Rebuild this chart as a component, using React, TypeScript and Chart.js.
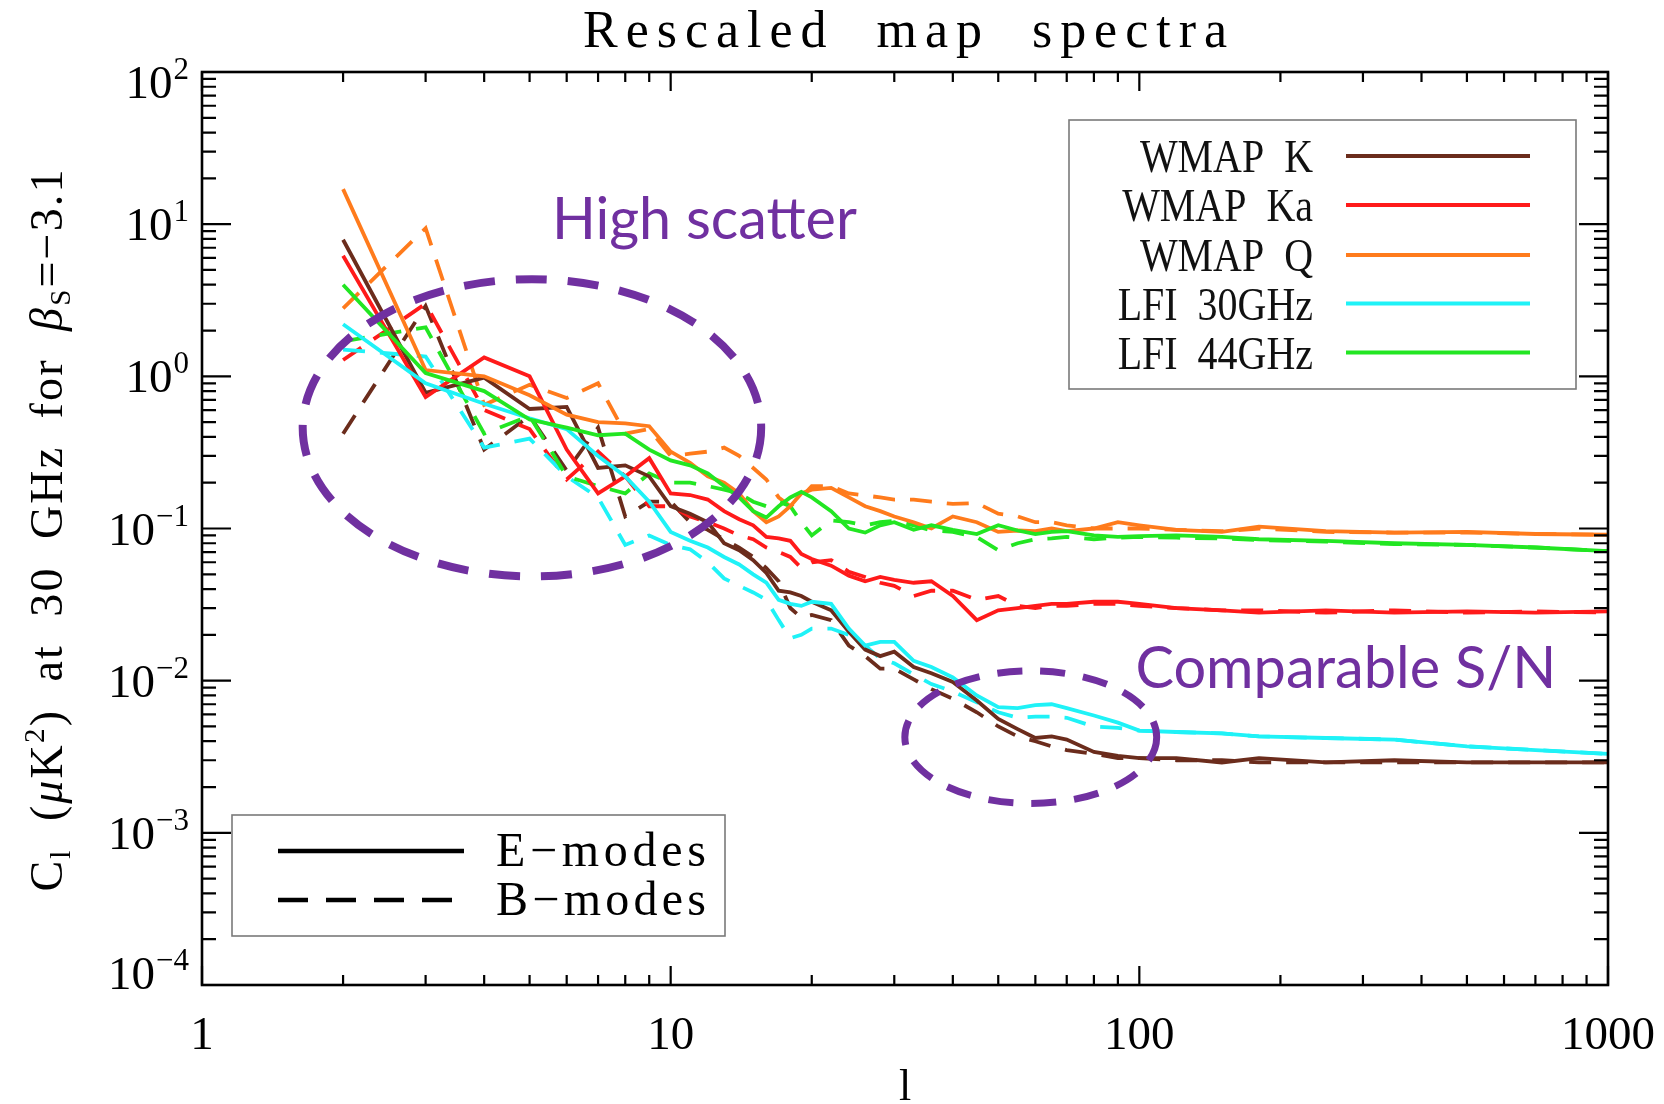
import React, { useEffect, useRef } from "react";
import { Chart, registerables } from "chart.js";

Chart.register(...registerables);

// ---------------- data ----------------
const ells = [2, 3, 4, 5, 6, 7, 8, 9, 10, 11, 12, 13, 14, 15, 16, 17, 18, 19, 20, 22, 24, 26, 28, 30, 33, 36, 40, 45, 50, 55, 60, 65, 70, 80, 90, 100, 120, 150, 180, 250, 350, 500, 700, 1000];

const wmapK_E = [7.9, 0.78, 0.98, 0.61, 0.63, 0.25, 0.26, 0.22, 0.14, 0.125, 0.11, 0.08, 0.072, 0.062, 0.051, 0.039, 0.038, 0.036, 0.033, 0.029, 0.021, 0.016, 0.0145, 0.0155, 0.0123, 0.0112, 0.0098, 0.0074, 0.0056, 0.0048, 0.0042, 0.0043, 0.0041, 0.0034, 0.0032, 0.0031, 0.0031, 0.0029, 0.0031, 0.0029, 0.003, 0.0029, 0.0029, 0.0029];
const wmapK_B = [0.42, 2.9, 0.33, 0.55, 0.24, 0.46, 0.12, 0.15, 0.15, 0.11, 0.098, 0.085, 0.075, 0.065, 0.055, 0.045, 0.03, 0.026, 0.027, 0.025, 0.017, 0.0145, 0.012, 0.012, 0.0102, 0.0088, 0.0076, 0.0062, 0.005, 0.0043, 0.004, 0.0037, 0.0035, 0.0033, 0.0031, 0.0031, 0.003, 0.003, 0.0029, 0.0029, 0.0029, 0.0029, 0.0029, 0.0029];

const wmapKa_E = [6.2, 0.73, 1.33, 1.0, 0.33, 0.17, 0.22, 0.29, 0.17, 0.166, 0.155, 0.13, 0.115, 0.105, 0.088, 0.086, 0.083, 0.068, 0.063, 0.057, 0.049, 0.045, 0.048, 0.046, 0.044, 0.045, 0.036, 0.025, 0.029, 0.03, 0.031, 0.032, 0.032, 0.033, 0.033, 0.032, 0.03, 0.029, 0.028, 0.029, 0.028, 0.0285, 0.028, 0.0285];
const wmapKa_B = [1.28, 3.0, 0.6, 0.45, 0.21, 0.32, 0.22, 0.14, 0.14, 0.12, 0.11, 0.1, 0.09, 0.085, 0.075, 0.07, 0.065, 0.055, 0.06, 0.062, 0.052, 0.048, 0.044, 0.042, 0.036, 0.039, 0.039, 0.034, 0.036, 0.031, 0.03, 0.031, 0.031, 0.032, 0.032, 0.031, 0.03, 0.029, 0.029, 0.028, 0.029, 0.028, 0.0285, 0.028];

const wmapQ_E = [17, 1.1, 1.0, 0.75, 0.56, 0.5, 0.49, 0.47, 0.32, 0.27, 0.22, 0.2, 0.17, 0.13, 0.11, 0.12, 0.14, 0.17, 0.18, 0.185, 0.16, 0.14, 0.13, 0.12, 0.11, 0.1, 0.12, 0.11, 0.095, 0.097, 0.096, 0.1, 0.096, 0.1, 0.11, 0.105, 0.098, 0.095, 0.103, 0.096, 0.094, 0.095, 0.092, 0.091];
const wmapQ_B = [2.8, 9.4, 0.65, 0.88, 0.72, 0.9, 0.42, 0.45, 0.3, 0.31, 0.32, 0.34, 0.3, 0.25, 0.21, 0.16, 0.14, 0.16, 0.19, 0.19, 0.17, 0.165, 0.16, 0.155, 0.155, 0.15, 0.145, 0.147, 0.125, 0.12, 0.11, 0.11, 0.105, 0.1, 0.1, 0.1, 0.098, 0.096, 0.1, 0.095, 0.094, 0.094, 0.092, 0.091];

const lfi30_E = [2.2, 0.9, 0.66, 0.53, 0.45, 0.3, 0.22, 0.15, 0.095, 0.083, 0.075, 0.065, 0.058, 0.05, 0.044, 0.034, 0.032, 0.031, 0.033, 0.032, 0.022, 0.017, 0.018, 0.018, 0.0135, 0.0123, 0.0105, 0.008, 0.0067, 0.0066, 0.0069, 0.007, 0.0066, 0.0059, 0.0053, 0.0047, 0.0046, 0.0045, 0.0043, 0.0042, 0.0041, 0.0037, 0.0035, 0.0033];
const lfi30_B = [1.5, 1.35, 0.34, 0.39, 0.22, 0.16, 0.078, 0.09, 0.078, 0.073, 0.06, 0.047, 0.042, 0.038, 0.034, 0.025, 0.019, 0.02, 0.022, 0.022, 0.02, 0.017, 0.014, 0.013, 0.011, 0.0095, 0.0085, 0.0072, 0.0062, 0.0057, 0.0058, 0.0058, 0.0057, 0.005, 0.0049, 0.0047, 0.0046, 0.0045, 0.0043, 0.0042, 0.0041, 0.0037, 0.0035, 0.0033];

const lfi44_E = [4.0, 1.05, 0.8, 0.52, 0.46, 0.41, 0.42, 0.33, 0.28, 0.26, 0.23, 0.19, 0.16, 0.13, 0.118, 0.14, 0.16, 0.174, 0.16, 0.13, 0.1, 0.094, 0.105, 0.11, 0.098, 0.105, 0.098, 0.092, 0.105, 0.097, 0.092, 0.095, 0.096, 0.09, 0.088, 0.089, 0.09, 0.088, 0.085, 0.083, 0.08, 0.078, 0.075, 0.071];
const lfi44_B = [1.7, 2.1, 0.42, 0.55, 0.22, 0.19, 0.17, 0.23, 0.2, 0.2, 0.19, 0.18, 0.17, 0.15, 0.14, 0.15, 0.14, 0.11, 0.09, 0.113, 0.11, 0.105, 0.11, 0.112, 0.105, 0.097, 0.095, 0.088, 0.072, 0.08, 0.085, 0.086, 0.088, 0.085, 0.087, 0.088, 0.087, 0.086, 0.084, 0.082, 0.079, 0.078, 0.075, 0.071];

const channelNames = ["WMAP  K", "WMAP  Ka", "WMAP  Q", "LFI  30GHz", "LFI  44GHz"];
const channelColors = ["#6b2c1c", "#ff1a1a", "#ff7b1c", "#1ff2f7", "#22e622"];
const eSeries = [wmapK_E, wmapKa_E, wmapQ_E, lfi30_E, lfi44_E];
const bSeries = [wmapK_B, wmapKa_B, wmapQ_B, lfi30_B, lfi44_B];
const modeNames = ["E\u2212modes", "B\u2212modes"];

const xTickValues = [1, 10, 100, 1000];
const yTickExponents = [-4, -3, -2, -1, 0, 1, 2];

const titleText = "Rescaled  map  spectra";
const xTitleText = "l";
const yTitleParts = [
  { t: "C", sub: 0 },
  { t: "l", sub: 1 },
  { t: "  (", sub: 0 },
  { t: "\u03BC", sub: 0, italic: true },
  { t: "K", sub: 0 },
  { t: "2", sub: -1 },
  { t: ")  at  30  GHz  for  ", sub: 0 },
  { t: "\u03B2", sub: 0, italic: true },
  { t: "S", sub: 1 },
  { t: "=\u22123.1", sub: 0 },
];

// annotation regions, in data coordinates (l, C_l)
const scatterNote = { text: "High scatter", l: 5.58, c: 8.0 };
const snNote = { text: "Comparable S/N", l: 98.1, c: 0.00895 };
const scatterEllipse = { lMin: 1.64, lMax: 15.6, cMin: 0.0484, cMax: 4.35 };
const snEllipse = { lMin: 31.6, lMax: 108.9, cMin: 0.00156, cMax: 0.0116 };

// ---------------- drawing helpers ----------------
const SERIF = '"Liberation Serif", "DejaVu Serif", serif';
const PURPLE = "#7030a0";

function fillFit(ctx: CanvasRenderingContext2D, text: string, x: number, y: number, width: number, align: "left" | "center" | "right") {
  const c = ctx as any;
  c.letterSpacing = "0px";
  const w0 = ctx.measureText(text).width;
  const n = text.length;
  const sp = n > 1 ? (width - w0) / (n - 1) : 0;
  c.letterSpacing = sp.toFixed(2) + "px";
  const sx = align === "left" ? x : align === "center" ? x - width / 2 : x - width;
  ctx.textAlign = "left";
  ctx.fillText(text, sx, y);
  c.letterSpacing = "0px";
}

const decorPlugin = {
  id: "decor",
  afterDraw(chart: any) {
    const ctx: CanvasRenderingContext2D = chart.ctx;
    const xs = chart.scales.x;
    const ys = chart.scales.y;
    const { left, right, top, bottom } = chart.chartArea;
    ctx.save();
    ctx.fillStyle = "#000";
    ctx.strokeStyle = "#000";

    // ticks
    ctx.lineWidth = 2.2;
    ctx.beginPath();
    for (let e = 0; e <= 3; e++) {
      for (let m = 1; m <= 9; m++) {
        const v = m * Math.pow(10, e);
        if (v > 1000) break;
        const px = xs.getPixelForValue(v);
        const len = m === 1 ? 19 : 10;
        ctx.moveTo(px, bottom); ctx.lineTo(px, bottom - len);
        ctx.moveTo(px, top); ctx.lineTo(px, top + len);
      }
    }
    for (let e = -4; e <= 2; e++) {
      for (let m = 1; m <= 9; m++) {
        const v = m * Math.pow(10, e);
        if (v > 100.0001) break;
        const py = ys.getPixelForValue(v);
        const len = m === 1 ? 29 : 14;
        ctx.moveTo(left, py); ctx.lineTo(left + len, py);
        ctx.moveTo(right, py); ctx.lineTo(right - len, py);
      }
    }
    ctx.stroke();

    // frame
    ctx.lineWidth = 2.6;
    ctx.strokeRect(left, top, right - left, bottom - top);

    // y tick labels
    ctx.textBaseline = "alphabetic";
    for (const e of yTickExponents) {
      const py = ys.getPixelForValue(Math.pow(10, e));
      const off = e === 2 ? 10 : e === -4 ? -12 : 0;
      const expText = e < 0 ? "\u2212" + Math.abs(e) : String(e);
      ctx.font = `31px ${SERIF}`;
      const wExp = ctx.measureText(expText).width;
      const rightX = 189;
      ctx.textAlign = "left";
      ctx.fillText(expText, rightX - wExp, py + off - 3);
      ctx.font = `47px ${SERIF}`;
      ctx.textAlign = "right";
      ctx.fillText("10", rightX - wExp - 1, py + off + 16);
    }

    // x tick labels
    ctx.font = `47px ${SERIF}`;
    ctx.textAlign = "center";
    for (const v of xTickValues) {
      const px = xs.getPixelForValue(v);
      ctx.fillText(String(v), px, bottom + 64);
    }

    // titles
    ctx.font = `52px ${SERIF}`;
    fillFit(ctx, titleText, (left + right) / 2, 47, 644, "center");
    ctx.font = `44px ${SERIF}`;
    ctx.textAlign = "center";
    ctx.fillText(xTitleText, (left + right) / 2, 1100);

    // y title (rotated rich text)
    {
      const big = 46, small = 29;
      const parts = yTitleParts.map((p) => {
        const size = p.sub === 0 ? big : small;
        const font = `${p.italic ? "italic " : ""}${size}px ${SERIF}`;
        ctx.font = font;
        (ctx as any).letterSpacing = "0px";
        return { ...p, font, w: ctx.measureText(p.t).width };
      });
      const totalChars = parts.reduce((a, p) => a + p.t.length, 0);
      const w0 = parts.reduce((a, p) => a + p.w, 0);
      const target = 722;
      const sp = (target - w0) / (totalChars - 1);
      ctx.save();
      ctx.translate(62, (top + bottom) / 2 + 2);
      ctx.rotate(-Math.PI / 2);
      let x = -target / 2;
      ctx.textAlign = "left";
      for (const p of parts) {
        ctx.font = p.font;
        (ctx as any).letterSpacing = sp.toFixed(2) + "px";
        const dy = p.sub === 1 ? 8 : p.sub === -1 ? -18 : 0;
        ctx.fillText(p.t, x, dy);
        x += p.w + sp * p.t.length;
      }
      (ctx as any).letterSpacing = "0px";
      ctx.restore();
    }

    // channel legend (top right)
    {
      const bx = 1069, by = 120, bw = 507, bh = 269;
      ctx.fillStyle = "#fff";
      ctx.fillRect(bx, by, bw, bh);
      ctx.strokeStyle = "#7a7a7a";
      ctx.lineWidth = 1.6;
      ctx.strokeRect(bx, by, bw, bh);
      const rowY = [156, 205, 255, 303.5, 352.5];
      channelNames.forEach((name, i) => {
        const y = rowY[i];
        ctx.save();
        ctx.fillStyle = "#111";
        ctx.font = `47px ${SERIF}`;
        ctx.translate(1313, y + 16);
        ctx.scale(0.85, 1);
        ctx.textAlign = "right";
        ctx.fillText(name, 0, 0);
        ctx.restore();
        ctx.strokeStyle = channelColors[i];
        ctx.lineWidth = 4;
        ctx.setLineDash([]);
        ctx.beginPath();
        ctx.moveTo(1346, y);
        ctx.lineTo(1530, y);
        ctx.stroke();
      });
    }

    // mode legend (bottom left)
    {
      const bx = 232, by = 815, bw = 493, bh = 121;
      ctx.fillStyle = "#fff";
      ctx.fillRect(bx, by, bw, bh);
      ctx.strokeStyle = "#7a7a7a";
      ctx.lineWidth = 1.6;
      ctx.strokeRect(bx, by, bw, bh);
      ctx.strokeStyle = "#000";
      ctx.lineWidth = 4.5;
      ctx.setLineDash([]);
      ctx.beginPath(); ctx.moveTo(278, 851); ctx.lineTo(464, 851); ctx.stroke();
      ctx.setLineDash([30, 18]);
      ctx.beginPath(); ctx.moveTo(278, 900); ctx.lineTo(452, 900); ctx.stroke();
      ctx.setLineDash([]);
      ctx.fillStyle = "#000";
      ctx.font = `48px ${SERIF}`;
      fillFit(ctx, modeNames[0], 496, 866, 210, "left");
      fillFit(ctx, modeNames[1], 496, 915, 210, "left");
    }

    // purple ellipses
    const drawEllipse = (el: any, lw: number, dash: number[]) => {
      const x1 = xs.getPixelForValue(el.lMin), x2 = xs.getPixelForValue(el.lMax);
      const y1 = ys.getPixelForValue(el.cMax), y2 = ys.getPixelForValue(el.cMin);
      ctx.strokeStyle = PURPLE;
      ctx.lineWidth = lw;
      ctx.setLineDash(dash);
      ctx.beginPath();
      ctx.ellipse((x1 + x2) / 2, (y1 + y2) / 2, (x2 - x1) / 2, (y2 - y1) / 2, 0, 0, Math.PI * 2);
      ctx.stroke();
      ctx.setLineDash([]);
    };
    drawEllipse(scatterEllipse, 8, [31, 21]);
    drawEllipse(snEllipse, 7, [25, 18]);

    // purple notes
    ctx.fillStyle = PURPLE;
    ctx.textAlign = "left";
    const note = (n: any, width: number) => {
      ctx.font = `60px Lato, "Open Sans", sans-serif`;
      const w = ctx.measureText(n.text).width;
      const size = 60 * width / w;
      ctx.font = `${size.toFixed(1)}px Lato, "Open Sans", sans-serif`;
      ctx.fillText(n.text, xs.getPixelForValue(n.l), ys.getPixelForValue(n.c));
    };
    note(scatterNote, 305);
    note(snNote, 421);

    ctx.restore();
  },
};

export default function App() {
  const ref = useRef<HTMLCanvasElement | null>(null);
  useEffect(() => {
    document.body.style.margin = "0";
    const datasets: any[] = [];
    const order = [4, 3, 2, 1, 0];
    for (const i of order) {
      datasets.push({
        label: channelNames[i] + " E",
        data: ells.map((l, k) => ({ x: l, y: eSeries[i][k] })),
        borderColor: channelColors[i],
        borderWidth: 3.8,
        pointRadius: 0,
        tension: 0,
        fill: false,
      });
    }
    for (const i of order) {
      datasets.push({
        label: channelNames[i] + " B",
        data: ells.map((l, k) => ({ x: l, y: bSeries[i][k] })),
        borderColor: channelColors[i],
        borderWidth: 3.8,
        borderDash: [22, 15],
        pointRadius: 0,
        tension: 0,
        fill: false,
      });
    }
    const chart = new Chart(ref.current as HTMLCanvasElement, {
      type: "line",
      data: { datasets },
      options: {
        animation: false,
        responsive: true,
        maintainAspectRatio: false,
        devicePixelRatio: 1,
        layout: { padding: { top: 72, right: 56, left: 0, bottom: 0 } },
        plugins: {
          legend: { display: false },
          title: { display: false },
          tooltip: { enabled: false },
        },
        scales: {
          x: {
            type: "logarithmic",
            min: 1,
            max: 1000,
            grid: { display: false },
            border: { display: false },
            ticks: { display: false },
            afterFit: (s: any) => { s.height = 119; },
          },
          y: {
            type: "logarithmic",
            min: 1e-4,
            max: 100,
            grid: { display: false },
            border: { display: false },
            ticks: { display: false },
            afterFit: (s: any) => { s.width = 202; },
          },
        },
      } as any,
      plugins: [decorPlugin],
    });
    return () => chart.destroy();
  }, []);
  return (
    <div style={{ width: 1664, height: 1104, position: "relative", background: "#fff" }}>
      <canvas ref={ref} />
    </div>
  );
}
